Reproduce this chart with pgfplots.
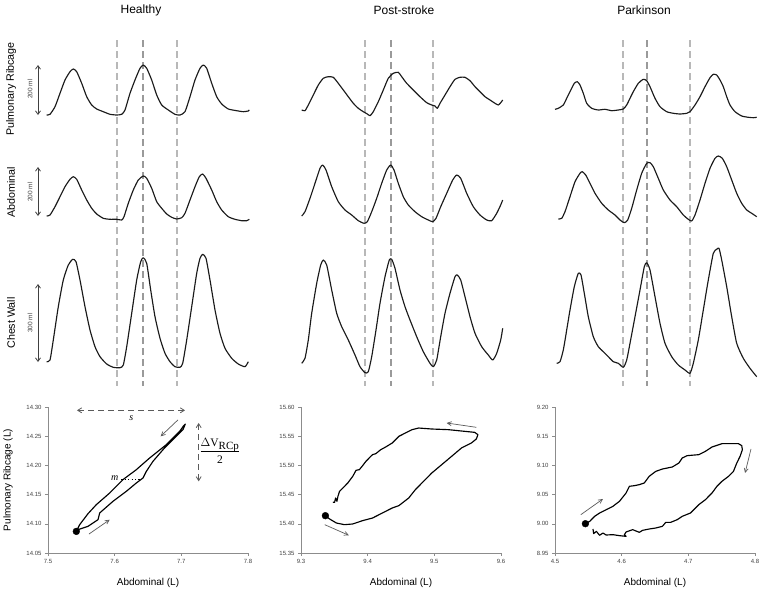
\documentclass[border=0pt]{standalone}
\usepackage{pgfplots}
\pgfplotsset{compat=1.18}
\usepackage{fontspec}
\setmainfont{Liberation Sans}
\newfontfamily\serifrm{Liberation Serif}
\usetikzlibrary{arrows.meta}
\definecolor{wave}{HTML}{1A1A1A}
\definecolor{dashl}{HTML}{B8B8B8}
\definecolor{dashm}{HTML}{9A9A9A}
\definecolor{axgray}{HTML}{8C8C8C}
\definecolor{annot}{HTML}{5A5A5A}
\definecolor{tickc}{HTML}{404040}
\pgfplotsset{
  wav/.style={wave, line width=1.15pt, line join=round, smooth, tension=0.35},
  vdash/.style={dashl, line width=1.1pt, dash pattern=on 7pt off 4pt},
  vdashm/.style={dashm, line width=1.1pt, dash pattern=on 7pt off 4pt},
  loopax/.style={
    scale only axis, width=200pt, height=146pt, anchor=south west,
    axis x line=bottom, axis y line=left,
    axis line style={axgray, line width=0.6pt, -},
    tick style={axgray, line width=0.5pt}, tick align=outside,
    major tick length=3pt,
    ticklabel style={font=\fontsize{6}{7}\selectfont, color=tickc},
    /pgf/number format/assume math mode=true,
    xticklabel style={/pgf/number format/.cd, fixed, fixed zerofill, precision=1},
    yticklabel style={/pgf/number format/.cd, fixed, fixed zerofill, precision=2},
    xlabel={Abdominal (L)},
    xlabel style={font=\fontsize{10}{12}\selectfont, at={(axis description cs:0.5,-0.205)}, anchor=center},
    clip=false,
  },
  loopline/.style={black, line width=1.15pt, line join=round},
  dotm/.style={only marks, mark=*, mark size=3.4pt, black},
}
\tikzset{garrow/.style={annot, line width=0.7pt, -{Straight Barb[length=4pt,width=4pt]}}}
\begin{document}
\begin{tikzpicture}
\useasboundingbox (0pt,0pt) rectangle (772pt,-593pt);
% ---------- waveform panel (canvas coordinates) ----------
\begin{axis}[at={(0pt,0pt)}, anchor=north west, scale only axis,
  width=772pt, height=593pt, xmin=0, xmax=772, ymin=0, ymax=593,
  y dir=reverse, axis lines=none, clip=false]
% dashed markers
\foreach \xx/\st in {117/vdash,143/vdashm,177/vdash,365/vdash,391/vdashm,433/vdash,623/vdash,647/vdashm,690/vdash}{
  \edef\tmp{\noexpand\addplot[\st] coordinates {(\xx,40) (\xx,386)};}\tmp
}
% Healthy
\addplot[wav] coordinates {(46.7,115) (50,114.3) (55,106.7) (60,93.3) (65,80) (70,71.7) (73.3,69) (76.7,71.7) (81.7,83.3) (86.7,96.7) (91.7,105) (96.7,109) (103.3,111.7) (110,114.3) (116.7,115) (121.7,114.3) (125,110) (130,93.3) (135,80) (140,68.3) (143.3,65) (146.7,68.3) (151.7,80) (156.7,95) (161.7,105) (168.3,110) (175,114.3) (180,115) (185,111.7) (190,96.7) (195,80) (200,68.3) (203.3,65) (206.7,68.3) (211.7,83.3) (216.7,96.7) (221.7,104) (228.3,109) (236.7,110.7) (243.3,111.7) (248.3,111) (249.3,110)};
\addplot[wav] coordinates {(46.7,216) (50,215) (55,206.7) (60,196.7) (65,186.7) (70,179.3) (73.3,176.7) (76.7,179.3) (81.7,190) (86.7,200) (91.7,208.3) (96.7,214) (103.3,218.3) (110,219.3) (116.7,219.3) (121.7,220) (124,216.7) (128.3,203.3) (133.3,190) (138.3,180) (143.3,176) (146.7,178.3) (151.7,188.3) (156.7,201.7) (161.7,208.3) (166.7,214) (171.7,217.3) (176.7,219) (181.7,217.7) (185,213.3) (190,200) (195,186.7) (199.3,176.7) (202.7,174) (206,178.3) (211.7,190) (216.7,201.7) (221.7,210) (228.3,216.7) (235,219.3) (241.7,220.7) (246.7,220.7) (249.3,219.3)};
\addplot[wav] coordinates {(46.7,361.7) (50,360) (53.3,340) (58.3,306.7) (63.3,280) (68.3,265) (72.7,259.3) (76,261.7) (80,280) (85,306.7) (90,330) (95,346.7) (100,356.7) (106.7,364) (113.3,367.3) (120,367.7) (123.3,365) (126.7,346.7) (131.7,313.3) (136.7,280) (140.7,261.7) (143.3,257.7) (146.7,263.3) (150.7,290) (155,316.7) (160,338.3) (165,353.3) (170,361.7) (175,366.7) (180,367.3) (182.7,363.3) (186.7,340) (191.7,306.7) (196.7,273.3) (200,258.3) (202.7,254.3) (206,258.3) (210,280) (215,310) (220,333.3) (225,348.3) (231.7,358.3) (238.3,364) (245,366.7) (248.3,361.7)};
% Post-stroke
\addplot[wav] coordinates {(301.7,110) (305,110.7) (308.3,105) (313.3,95) (318.3,85) (323.3,78.3) (328.3,76.7) (333.3,77.3) (338.3,83.3) (343.3,90) (348.3,96.7) (353.3,103.3) (358.3,108.3) (363.3,111.7) (367.3,114) (370,115.7) (373.3,111.7) (378.3,101.7) (383.3,90) (388.3,78.3) (393.3,73.3) (398.3,72.3) (401.7,76.7) (406.7,83.3) (413.3,90) (420,96.7) (426.7,102.7) (431.7,105) (435,106) (437.3,108.3) (440,103.3) (445,95) (450,86.7) (455,79.3) (460,77.3) (465,77.3) (470,80.7) (475,86.7) (480,91.7) (485,96.7) (490,100) (495,103.3) (498.3,105) (500.7,102.7) (502.7,100)};
\addplot[wav] coordinates {(301.7,216) (305,211.7) (310,198.3) (315,183.3) (320,168.3) (322.7,165) (326,170) (331.7,186.7) (338.3,201.7) (345,210) (351.7,215) (358.3,220.7) (364,223.3) (367.3,221.7) (371.7,211.7) (376.7,198.3) (381.7,183.3) (386.7,170) (390.7,165) (394,170) (398.3,183.3) (403.3,196.7) (408.3,205) (415,211.7) (421.7,216.7) (428.3,220) (432.7,221.7) (436,218.3) (440.7,206.7) (446.7,193.3) (452.7,180) (456.7,175) (460.7,178.3) (466.7,193.3) (473.3,206.7) (480,215) (486.7,220) (491.7,220.7) (496.7,213.3) (500.7,205) (502.7,200)};
\addplot[wav] coordinates {(301.7,363.3) (305,358.3) (308.3,340) (311.7,313.3) (316.7,283.3) (320.7,265) (323.3,260) (326.7,265) (331.7,290) (336.7,313.3) (341.7,326.7) (348.3,340) (355,355) (360,366.7) (365,372.7) (368.3,371.7) (371.7,356.7) (376,330) (380,303.3) (385,276.7) (389.3,260) (391.7,259.3) (395,268.3) (400,290) (405,306.7) (410,320) (416.7,336.7) (423.3,351.7) (430,363.3) (433.3,366.7) (436.7,360) (440.7,336.7) (445,313.3) (450,293.3) (455,276.7) (457.3,275) (460.7,280) (465,296.7) (470,316.7) (475,333.3) (481.7,346.7) (488.3,355) (492.7,360) (496.7,353.3) (500.7,340) (502.7,328.3)};
% Parkinson
\addplot[wav] coordinates {(555,109.3) (558.3,108.3) (563.3,105) (566.7,98.3) (570,91.7) (574.3,83.3) (577.3,81.7) (580,85) (583.3,93.3) (586.7,103.3) (591.7,108.3) (598.3,110) (605,109.3) (611.7,110.7) (618.3,110) (623.3,109) (626.7,105) (630,98.3) (633.3,91.7) (638.3,83.3) (643.3,79.3) (646.7,80.7) (650,86.7) (655,98.3) (660,106.7) (666.7,111.7) (673.3,113.3) (680,114) (686.7,113.3) (690,111.7) (695,105) (700,96.7) (705,86.7) (710,77.7) (713.3,74.3) (716.7,75) (720,80) (723.3,86.7) (726.7,96.7) (730,105) (735,111.7) (741.7,116) (748.3,117.3) (753.3,117.7) (756.7,117.3)};
\addplot[wav] coordinates {(558.3,219) (561.7,218.3) (565,211.7) (570,196.7) (575,181.7) (580,173.3) (582.3,171.7) (585.7,175) (590,183.3) (595,193.3) (601.7,203.3) (608.3,210) (615,215) (620,220) (624.3,222.7) (627.7,220) (631.7,208.3) (636.7,190) (641.7,173.3) (646.7,163.3) (650,162.7) (653.3,166.7) (658.3,178.3) (663.3,190) (670,200) (676.7,206.7) (683.3,215) (688.3,219.3) (691.7,221) (695,215) (700,200) (705,183.3) (710,168.3) (715,158.3) (718.3,156) (722.3,158.3) (726.7,166.7) (731.7,180) (736.7,193.3) (741.7,203.3) (746.7,210) (751.7,213.3) (756.7,216.7)};
\addplot[wav] coordinates {(556.7,363.3) (560,361.7) (563.3,350) (566.7,330) (570,310) (574.3,286.7) (578.3,273.3) (581,275) (584.3,293.3) (588.3,316.7) (593.3,336.7) (598.3,346.7) (603.3,351.7) (608.3,356.7) (613.3,361.7) (618.3,363.3) (623.3,367.3) (626.7,360) (630,343.3) (635,316.7) (640,290) (644.3,266.7) (646.7,262.7) (650,270) (655,296.7) (660,323.3) (665,343.3) (671.7,356.7) (678.3,365) (685,370) (690,373.3) (693.3,363.3) (698.3,340) (703.3,310) (708.3,280) (713.3,253.3) (716.7,249.3) (719,248.3) (721.7,260) (726.7,286.7) (731.7,316.7) (736.7,343.3) (743.3,358.3) (750,368.3) (756.7,376.7)};
% scale bars
\draw[tickc, line width=0.8pt, {Straight Barb[length=3.5pt,width=5pt]}-{Straight Barb[length=3.5pt,width=5pt]}] (axis cs:38,65) -- (axis cs:38,115);
\draw[tickc, line width=0.8pt, {Straight Barb[length=3.5pt,width=5pt]}-{Straight Barb[length=3.5pt,width=5pt]}] (axis cs:38,167) -- (axis cs:38,216);
\draw[tickc, line width=0.8pt, {Straight Barb[length=3.5pt,width=5pt]}-{Straight Barb[length=3.5pt,width=5pt]}] (axis cs:38,284) -- (axis cs:38,362);
\node[rotate=90, font=\fontsize{6.5}{7}\selectfont, tickc] at (axis cs:30,89) {200 ml};
\node[rotate=90, font=\fontsize{6.5}{7}\selectfont, tickc] at (axis cs:30,192) {200 ml};
\node[rotate=90, font=\fontsize{6.5}{7}\selectfont, tickc] at (axis cs:30,323) {300 ml};
% row labels
\node[rotate=90, font=\fontsize{10.7}{12}\selectfont] at (axis cs:11,89) {Pulmonary Ribcage};
\node[rotate=90, font=\fontsize{10.7}{12}\selectfont] at (axis cs:11,192) {Abdominal};
\node[rotate=90, font=\fontsize{10.7}{12}\selectfont] at (axis cs:11,323) {Chest Wall};
% titles
\node[font=\fontsize{12}{14}\selectfont] at (axis cs:141,10) {Healthy};
\node[font=\fontsize{12}{14}\selectfont] at (axis cs:404,10) {Post-stroke};
\node[font=\fontsize{12}{14}\selectfont] at (axis cs:644,10) {Parkinson};
\end{axis}
% ---------- Healthy loop ----------
\begin{axis}[loopax, at={(48pt,-553pt)},
  xmin=7.5, xmax=7.8, ymin=14.05, ymax=14.30,
  xtick={7.5,7.6,7.7,7.8}, ytick={14.05,14.10,14.15,14.20,14.25,14.30},
  ylabel={Pulmonary Ribcage (L)},
  ylabel style={font=\fontsize{10}{12}\selectfont, at={(axis description cs:-0.2,0.5)}, anchor=center, rotate=0}]
\addplot[loopline] coordinates {(7.5425,14.087) (7.5475,14.0985) (7.56,14.1173) (7.5725,14.1328) (7.5925,14.1527) (7.6125,14.1756) (7.6325,14.1927) (7.6525,14.2127) (7.6775,14.2355) (7.6975,14.2583) (7.7035,14.268) (7.706,14.2709) (7.7025,14.2612) (7.6875,14.2441) (7.6725,14.2269) (7.6575,14.207) (7.6475,14.1898) (7.6425,14.1784) (7.6325,14.1699) (7.6175,14.1556) (7.5975,14.1385) (7.5775,14.1185) (7.575,14.1071) (7.5675,14.1014) (7.56,14.0957) (7.5525,14.0928) (7.545,14.09)};
\addplot[dotm] coordinates {(7.5425,14.087)};
\draw[annot, line width=0.8pt, dash pattern=on 6pt off 4pt, {Straight Barb[length=4pt,width=5pt]}-{Straight Barb[length=4pt,width=5pt]}] (axis cs:7.5435,14.2943) -- (axis cs:7.7055,14.2943);
\node[font=\serifrm\itshape\fontsize{10}{12}\selectfont] at (axis cs:7.625,14.281) {s};
\draw[annot, line width=0.8pt, dash pattern=on 6pt off 4pt, {Straight Barb[length=4pt,width=5pt]}-{Straight Barb[length=4pt,width=5pt]}] (axis cs:7.726,14.2726) -- (axis cs:7.726,14.1727);
\node[font=\serifrm\fontsize{11.5}{12.5}\selectfont, inner sep=0pt] at (axis cs:7.758,14.222) {\begin{tabular}{@{}c@{}}$\Delta$V\textsubscript{\fontsize{11}{12}\selectfont RCp}\\[-1pt]\hline\rule{0pt}{12pt}2\end{tabular}};
\node[font=\serifrm\itshape\fontsize{10}{12}\selectfont] at (axis cs:7.6,14.1775) {m};
\draw[black, line width=0.9pt, dash pattern=on 1.2pt off 2.2pt] (axis cs:7.61,14.1756) -- (axis cs:7.6375,14.1756);
\draw[garrow] (axis cs:7.695,14.278) -- (axis cs:7.669,14.2498);
\draw[garrow] (axis cs:7.5615,14.0825) -- (axis cs:7.5925,14.107);
\end{axis}
% ---------- Post-stroke loop ----------
\begin{axis}[loopax, at={(301pt,-553pt)},
  xmin=9.3, xmax=9.6, ymin=15.35, ymax=15.60,
  xtick={9.3,9.4,9.5,9.6}, ytick={15.35,15.40,15.45,15.50,15.55,15.60}]
\addplot[loopline] coordinates {(9.3366,15.4139) (9.3430,15.4082) (9.3529,15.4014) (9.3652,15.3985) (9.3776,15.3997) (9.3924,15.4054) (9.4073,15.4099) (9.4221,15.4185) (9.4369,15.4271) (9.4468,15.4311) (9.4616,15.4442) (9.4715,15.4584) (9.4814,15.4699) (9.4962,15.4870) (9.5111,15.5013) (9.5259,15.5155) (9.5407,15.5298) (9.5556,15.5384) (9.5630,15.5452) (9.5654,15.5526) (9.5605,15.5566) (9.5457,15.5583) (9.5210,15.5612) (9.4962,15.5623) (9.4765,15.5640) (9.4666,15.5612) (9.4567,15.5555) (9.4468,15.5498) (9.4369,15.5384) (9.4270,15.5315) (9.4196,15.5269) (9.4122,15.5201) (9.4073,15.5184) (9.4023,15.5127) (9.3974,15.5070) (9.3924,15.4995) (9.3875,15.4927) (9.3826,15.4916) (9.3776,15.4813) (9.3702,15.4699) (9.3628,15.4613) (9.3578,15.4556) (9.3554,15.4470) (9.3539,15.4385) (9.3519,15.4442) (9.3504,15.4368) (9.3479,15.4368)};
\addplot[dotm] coordinates {(9.3366,15.4139)};
\draw[garrow] (axis cs:9.5630,15.5652) -- (axis cs:9.5185,15.5726);
\draw[garrow] (axis cs:9.3356,15.3985) -- (axis cs:9.3717,15.3803);
\end{axis}
% ---------- Parkinson loop ----------
\begin{axis}[loopax, at={(555pt,-553pt)},
  xmin=4.5, xmax=4.8, ymin=8.95, ymax=9.20,
  xtick={4.5,4.6,4.7,4.8}, ytick={8.95,9.00,9.05,9.10,9.15,9.20}]
\addplot[loopline] coordinates {(4.5456,9.0002) (4.5521,9.0042) (4.5595,9.0128) (4.5669,9.0185) (4.5768,9.0242) (4.5868,9.0299) (4.5967,9.0385) (4.6066,9.0527) (4.6116,9.0642) (4.6190,9.0653) (4.6264,9.0670) (4.6339,9.0699) (4.6413,9.0813) (4.6512,9.0898) (4.6611,9.0938) (4.6760,9.0973) (4.6859,9.1041) (4.6909,9.1127) (4.6983,9.1167) (4.7157,9.1184) (4.7256,9.1241) (4.7355,9.1315) (4.7504,9.1372) (4.7652,9.1372) (4.7752,9.1372) (4.7801,9.1338) (4.7811,9.1269) (4.7776,9.1155) (4.7727,9.1041) (4.7677,9.0898) (4.7603,9.0813) (4.7504,9.0727) (4.7429,9.0642) (4.7355,9.0527) (4.7256,9.0413) (4.7157,9.0328) (4.7033,9.0185) (4.6909,9.0128) (4.6834,9.0071) (4.6735,9.0025) (4.6661,9.0025) (4.6611,8.9957) (4.6512,8.9928) (4.6413,8.9911) (4.6314,8.9888) (4.6264,8.9854) (4.6165,8.9900) (4.6066,8.9860) (4.6041,8.9814) (4.6066,8.9785) (4.5967,8.9797) (4.5868,8.9814) (4.5768,8.9808) (4.5719,8.9842) (4.5669,8.9803) (4.5620,8.9871) (4.5580,8.9831) (4.5570,8.9911)};
\addplot[dotm] coordinates {(4.5456,9.0002)};
\draw[garrow] (axis cs:4.5387,9.0156) -- (axis cs:4.5719,9.0425);
\draw[garrow] (axis cs:4.7940,9.1281) -- (axis cs:4.7851,9.0870);
\end{axis}
\end{tikzpicture}
\end{document}
